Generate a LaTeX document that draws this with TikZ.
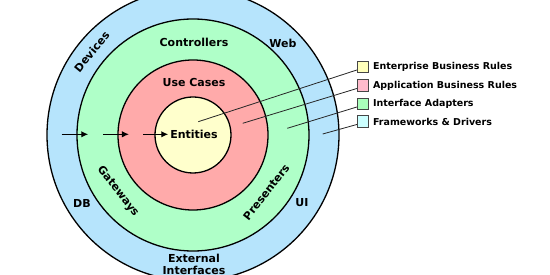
\documentclass[tikz,border=0pt]{standalone}
\usepackage{fontspec}
\setmainfont{DejaVu Sans}
\usetikzlibrary{arrows.meta}
\definecolor{entcol}{RGB}{255,255,204}
\definecolor{appcol}{RGB}{255,170,170}
\definecolor{adacol}{RGB}{175,255,200}
\definecolor{frmcol}{RGB}{182,228,252}
\definecolor{entkey}{RGB}{255,255,187}
\definecolor{appkey}{RGB}{255,187,204}
\definecolor{adakey}{RGB}{170,255,187}
\definecolor{frmkey}{RGB}{204,255,255}
\definecolor{keyline}{RGB}{70,70,70}

\begin{document}
\begin{tikzpicture}[x=1pt,y=1pt,>={Latex[length=7pt,width=6.5pt]},
  ring/.style={line width=1.3pt},
  lbl/.style={font=\fontsize{11}{12}\selectfont\bfseries,inner sep=0pt},
  keybox/.style={draw=keyline,line width=.8pt,minimum size=11.5pt,inner sep=0pt},
  keytxt/.style={font=\fontsize{9.5}{11}\selectfont\bfseries,anchor=west,inner sep=0pt}]
\useasboundingbox (-193,-140) rectangle (357,135);
\clip (-193,-140) rectangle (357,135);
\filldraw[ring,fill=frmcol] (0,0) circle (146);
\filldraw[ring,fill=adacol] (0,0) circle (116);
\filldraw[ring,fill=appcol] (0,0) circle (75);
\filldraw[ring,fill=entcol] (0,0) circle (38);
\coordinate (ptent) at (5.3,13.3);
\coordinate (ptapp) at (49.7,11.7);
\coordinate (ptada) at (94.3,6.7);
\coordinate (ptfrm) at (129.7,1);
\foreach \s/\e [count=\i] in {-131.3/-104.7,-89.7/-64,-49.7/-24.7}{
  \coordinate (in\i) at (\s,.7);
  \coordinate (out\i) at (\e,.7);
  \draw[line width=1.5pt,->] (in\i)--(out\i);}
\node[lbl] (entities) at (1,.7) {Entities};
\node[lbl] (usecases) at (1,52.7) {Use Cases};
\node[lbl] (controllers) at (1,92.3) {Controllers};
\node[lbl,rotate=-52] (gateways) at (217:94) {Gateways};
\node[lbl,rotate=52] (presenters) at (-38:93) {Presenters};
\node[lbl,rotate=50.6] (devices) at (140.6:131) {Devices};
\node[lbl] (web) at (90,92) {Web};
\node[lbl] (db) at (-111,-68) {DB};
\node[lbl] (ui) at (109,-68) {UI};
\node[lbl,align=center] (external) at (1,-129) {External\\Interfaces};
\node[keybox,fill=entkey] (keyent) at (170,68) {};
\node[keybox,fill=appkey] (keyapp) at (170,49.5) {};
\node[keybox,fill=adakey] (keyada) at (170,31) {};
\node[keybox,fill=frmkey] (keyfrm) at (170,13.5) {};
\node[keytxt] (txtent) at ([xshift=3.7pt]keyent.east) {Enterprise Business Rules};
\node[keytxt] (txtapp) at ([xshift=3.7pt]keyapp.east) {Application Business Rules};
\node[keytxt] (txtada) at ([xshift=3.7pt]keyada.east) {Interface Adapters};
\node[keytxt] (txtfrm) at ([xshift=3.7pt]keyfrm.east) {Frameworks \& Drivers};
\foreach \k in {ent,app,ada,frm}{
  \draw[black!85,line width=.8pt] ([yshift=-3pt]key\k.west)--(pt\k);}
\end{tikzpicture}
\end{document}
